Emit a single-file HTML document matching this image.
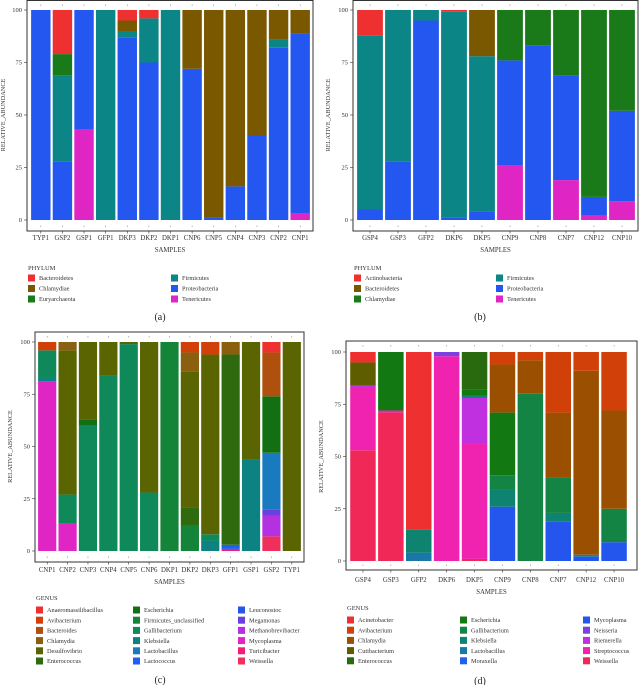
<!DOCTYPE html>
<html><head><meta charset="utf-8"><style>
html,body{margin:0;padding:0;background:#fff;}
svg{display:block;font-family:"Liberation Serif",serif;}
</style></head><body>
<svg id="fig" width="640" height="685" viewBox="0 0 640 685" xmlns="http://www.w3.org/2000/svg"></svg>
<script>
// ---------- Panel (a) ----------
const aSamples = ["TYP1","GSP2","GSP1","GFP1","DKP3","DKP2","DKP1","CNP6","CNP5","CNP4","CNP3","CNP2","CNP1"];
const aNames = ["Bacteroidetes","Chlamydiae","Euryarchaeota","Firmicutes","Proteobacteria","Tenericutes"];
const aBacteroidetes = [0,21,0,0,5,4,0,0,0,0,0,0,0];
const aChlamydiae = [0,0,0,0,5,0,0,28,99,84,60,14,11];
const aEuryarchaeota = [0,10,0,0,0,0,0,0,0,0,0,0,0];
const aFirmicutes = [0,41,0,100,3,21,100,0,0,0,0,4,0];
const aProteobacteria = [100,28,57,0,87,75,0,72,1,16,40,82,86];
const aTenericutes = [0,0,43,0,0,0,0,0,0,0,0,0,3];
const aSeries = [aBacteroidetes,aChlamydiae,aEuryarchaeota,aFirmicutes,aProteobacteria,aTenericutes];

// ---------- Panel (b) ----------
const bSamples = ["GSP4","GSP3","GFP2","DKP6","DKP5","CNP9","CNP8","CNP7","CNP12","CNP10"];
const bNames = ["Actinobacteria","Bacteroidetes","Chlamydiae","Firmicutes","Proteobacteria","Tenericutes"];
const bActinobacteria = [12,0,0,0.6,0,0,0,0,0,0];
const bBacteroidetes = [0,0,0,0,22,0,0,0,0,0];
const bChlamydiae = [0,0,0,0,0,24,17,31,89,48];
const bFirmicutes = [83,72,5,98.4,74,0,0,0,0,0];
const bProteobacteria = [5,28,95,1,4,50,83,50,9,43];
const bTenericutes = [0,0,0,0,0,26,0,19,2,9];
const bSeries = [bActinobacteria,bBacteroidetes,bChlamydiae,bFirmicutes,bProteobacteria,bTenericutes];

// ---------- Panel (c) ----------
const cSamples = ["CNP1","CNP2","CNP3","CNP4","CNP5","CNP6","DKP1","DKP2","DKP3","GFP1","GSP1","GSP2","TYP1"];
const cNames = ["Anaeromassilibacillus","Avibacterium","Bacteroides","Chlamydia","Desulfovibrio","Enterococcus","Escherichia","Firmicutes_unclassified","Gallibacterium","Klebsiella","Lactobacillus","Lactococcus","Leuconostoc","Megamonas","Methanobrevibacter","Mycoplasma","Turicibacter","Weissella"];
const cAnaeromassilibacillus = [0,0,0,0,0,0,0,0,0,0,0,5,0];
const cAvibacterium = [4,0,0,0,0,0,0,5,6,0,0,0,0];
const cBacteroides = [0,0,0,0,0,0,0,0,0,0,0,21,0];
const cChlamydia = [0,4,0,0,0,0,0,9,0,6,0,0,0];
const cDesulfovibrio = [0,69,37,16,1,72,0,65,86,0,56,0,100];
const cEnterococcus = [0,0,0,0,0,0,0,9,0,91,0,0,0];
const cEscherichia = [0,0,3,0,0,0,0,0,0,0,0,27,0];
const cFirmicutesUnc = [0,0,0,0,0,0,100,12,0,0,0,0,0];
const cGallibacterium = [13,14,60,84,99,28,0,0,3,0,0,0,0];
const cKlebsiella = [2,0,0,0,0,0,0,0,5,0,44,0,0];
const cLactobacillus = [0,0,0,0,0,0,0,0,0,0,0,27,0];
const cLactococcus = [0,0,0,0,0,0,0,0,0,2,0,0,0];
const cLeuconostoc = [0,0,0,0,0,0,0,0,0,0,0,0,0];
const cMegamonas = [0,0,0,0,0,0,0,0,0,0,0,3,0];
const cMethanobrevibacter = [0,0,0,0,0,0,0,0,0,0,0,10,0];
const cMycoplasma = [81,13,0,0,0,0,0,0,0,0,0,0,0];
const cTuricibacter = [0,0,0,0,0,0,0,0,0,1,0,0,0];
const cWeissella = [0,0,0,0,0,0,0,0,0,0,0,7,0];
const cSeries = [cAnaeromassilibacillus,cAvibacterium,cBacteroides,cChlamydia,cDesulfovibrio,cEnterococcus,cEscherichia,cFirmicutesUnc,cGallibacterium,cKlebsiella,cLactobacillus,cLactococcus,cLeuconostoc,cMegamonas,cMethanobrevibacter,cMycoplasma,cTuricibacter,cWeissella];

// ---------- Panel (d) ----------
const dSamples = ["GSP4","GSP3","GFP2","DKP6","DKP5","CNP9","CNP8","CNP7","CNP12","CNP10"];
const dNames = ["Acinetobacter","Avibacterium","Chlamydia","Cutibacterium","Enterococcus","Escherichia","Gallibacterium","Klebsiella","Lactobacillus","Moraxella","Mycoplasma","Neisseria","Riemerella","Streptococcus","Weissella"];
const dAcinetobacter = [5,0,85,0,0,0,0,0,0,0];
const dAvibacterium = [0,0,0,0,0,6,4,29,9,28];
const dChlamydia = [0,0,0,0,0,23,16,31,88,47];
const dCutibacterium = [11,0,0,0,0,0,0,0,0,0];
const dEnterococcus = [0,0,0,0,18,0,0,0,0,0];
const dEscherichia = [0,28,0,0,3,30,0,0,0,0];
const dGallibacterium = [0,0,0,0,0,7,80,17,0,16];
const dKlebsiella = [0,0,11,0,1,8,0,4,0,0];
const dLactobacillus = [0,0,4,0,0,0,0,0,1,0];
const dMoraxella = [0,0,0,0,0,0,0,0,0,0];
const dMycoplasma = [0,0,0,0,0,26,0,19,2,9];
const dNeisseria = [0,0,0,2,0,0,0,0,0,0];
const dRiemerella = [1,0,0,0,22,0,0,0,0,0];
const dStreptococcus = [30,1,0,98,55,0,0,0,0,0];
const dWeissella = [53,71,0,0,1,0,0,0,0,0];
const dSeries = [dAcinetobacter,dAvibacterium,dChlamydia,dCutibacterium,dEnterococcus,dEscherichia,dGallibacterium,dKlebsiella,dLactobacillus,dMoraxella,dMycoplasma,dNeisseria,dRiemerella,dStreptococcus,dWeissella];

const yTicks = [0,25,50,75,100];

// colours (style, not data)
const aColors = ["#ee3030","#7a5800","#1a7a1a","#0b8585","#2457f0","#e025c5"];
const bColors = ["#ee3030","#7a5800","#1a7a1a","#0b8585","#2457f0","#e025c5"];
const cColors = ["#ee3030","#d04008","#b0500f","#8a6010","#5a6400","#2f6a0e","#127012","#148438","#10895a","#0c8282","#1a7ac0","#2060f0","#2456ee","#6a40e0","#b530e0","#e025c5","#f0207a","#f0305c"];
const dColors = ["#ee3030","#d04008","#9a5000","#5e5e00","#2a6a0e","#127812","#148445","#0e8470","#1a78a8","#1f62f0","#2456ee","#7a40e0","#c030e0","#f023b0","#f02858"];

const NS = "http://www.w3.org/2000/svg";
const svg = document.getElementById("fig");
function mk(tag, attrs, parent) {
  const e = document.createElementNS(NS, tag);
  for (const k in attrs) e.setAttribute(k, attrs[k]);
  (parent || svg).appendChild(e);
  return e;
}

function panel(cfg) {
  const g = mk("g", {});
  
  
  const yScale = v => cfg.y0 - (cfg.y0 - cfg.y100) * v / 100;
  const n = cfg.samples.length;
  const band = (cfg.barsR - cfg.barsL) / n;
  const xScale = i => cfg.barsL + i * band;
  const bw = band - cfg.gap;
  // frame
  const fr = mk("rect", {x: cfg.fl, y: cfg.ft, width: cfg.fr - cfg.fl, height: cfg.fb - cfg.ft, fill: "#fff", stroke: "#333", "stroke-width": 1}, g);
  
  
  // y ticks
  yTicks.forEach(t => {
    const y = yScale(t);
    mk("line", {x1: cfg.fl - 3, x2: cfg.fl, y1: y, y2: y, stroke: "#333", "stroke-width": 0.6}, g);
    const tx = mk("text", {x: cfg.fl - 5, y: y + 2, "font-size": 6.5, "text-anchor": "end", fill: "#333"}, g);
    tx.textContent = t;
    
    
  });
  // bars
  for (let i = 0; i < n; i++) {
    let acc = 0;
    const bx = xScale(i) + cfg.gap / 2;
    for (let s = cfg.series.length - 1; s >= 0; s--) {
      const v = cfg.series[s][i];
      if (!v) continue;
      const yTop = yScale(acc + v), yBot = yScale(acc);
      const r = mk("rect", {x: bx, y: yTop, width: bw, height: yBot - yTop, fill: cfg.colors[s]}, g);
      
      
      acc += v;
    }
    const cx = bx + bw / 2;
    mk("line", {x1: cx, x2: cx, y1: cfg.ft + 4, y2: cfg.ft + 5.5, stroke: "#888", "stroke-width": 0.6}, g);
    mk("line", {x1: cx, x2: cx, y1: cfg.fb - 5.5, y2: cfg.fb - 4, stroke: "#888", "stroke-width": 0.6}, g);
    mk("line", {x1: cx, x2: cx, y1: cfg.fb, y2: cfg.fb + 2.5, stroke: "#333", "stroke-width": 0.6}, g);
    const lb = mk("text", {x: cx, y: cfg.labelY, "font-size": 6.8, "text-anchor": "middle", fill: "#333"}, g);
    lb.textContent = cfg.samples[i];
    
    
  }
  const xt = mk("text", {x: (cfg.fl + cfg.fr) / 2, y: cfg.labelY + 12, "font-size": 6.8, "text-anchor": "middle", fill: "#333"}, g);
  xt.textContent = "SAMPLES";
  
  
  const ym = (cfg.y0 + cfg.y100) / 2;
  const yt = mk("text", {x: cfg.yTitleX, y: ym, "font-size": 6.3, "text-anchor": "middle", fill: "#333", transform: "rotate(-90 " + cfg.yTitleX + " " + ym + ")"}, g);
  yt.textContent = "RELATIVE_ABUNDANCE";
  
  
  // legend
  const lt = mk("text", {x: cfg.legX[0], y: cfg.legTitleY, "font-size": 6.5, fill: "#333"}, g);
  lt.textContent = cfg.legTitle;
  
  
  cfg.names.forEach((nm, k) => {
    const col = Math.floor(k / cfg.perCol), row = k % cfg.perCol;
    const lx = cfg.legX[col], ly = cfg.legY0 + row * cfg.legStep;
    const sw = mk("rect", {x: lx, y: ly - 3.5, width: 7, height: 7, fill: cfg.colors[k]}, g);
    
    
    const tx = mk("text", {x: lx + 11, y: ly + 2.2, "font-size": 6.3, fill: "#333"}, g);
    tx.textContent = nm;
    
    
  });
  const cap = mk("text", {x: cfg.capX, y: cfg.capY, "font-size": 10, "text-anchor": "middle", fill: "#222"}, g);
  cap.textContent = cfg.caption;
  
  
}

panel({id: "panel-a", samples: aSamples, names: aNames, series: aSeries, colors: aColors,
  fl: 27, fr: 313, ft: 0.5, fb: 231, y100: 10, y0: 220, barsL: 30, barsR: 311, gap: 2.2,
  labelY: 240, yTitleX: 5, legTitle: "PHYLUM", legTitleY: 270, legX: [28, 171], legY0: 278, legStep: 10.5, perCol: 3,
  caption: "(a)", capX: 160, capY: 320});
panel({id: "panel-b", samples: bSamples, names: bNames, series: bSeries, colors: bColors,
  fl: 353, fr: 638, ft: 0.5, fb: 231, y100: 10, y0: 220, barsL: 356, barsR: 636, gap: 2.2,
  labelY: 240, yTitleX: 330, legTitle: "PHYLUM", legTitleY: 270, legX: [354, 496], legY0: 278, legStep: 10.5, perCol: 3,
  caption: "(b)", capX: 480, capY: 320});
panel({id: "panel-c", samples: cSamples, names: cNames, series: cSeries, colors: cColors,
  fl: 35, fr: 304, ft: 332, fb: 562, y100: 342, y0: 551, barsL: 37, barsR: 302, gap: 2.2,
  labelY: 572, yTitleX: 12, legTitle: "GENUS", legTitleY: 600, legX: [36, 133, 238], legY0: 610, legStep: 10.2, perCol: 6,
  caption: "(c)", capX: 160, capY: 683});
panel({id: "panel-d", samples: dSamples, names: dNames, series: dSeries, colors: dColors,
  fl: 346, fr: 637, ft: 341, fb: 570, y100: 352, y0: 561, barsL: 349, barsR: 628, gap: 2.4,
  labelY: 582, yTitleX: 323, legTitle: "GENUS", legTitleY: 610, legX: [347, 460, 583], legY0: 620, legStep: 10.2, perCol: 5,
  caption: "(d)", capX: 480, capY: 684});
</script>
</body></html>
